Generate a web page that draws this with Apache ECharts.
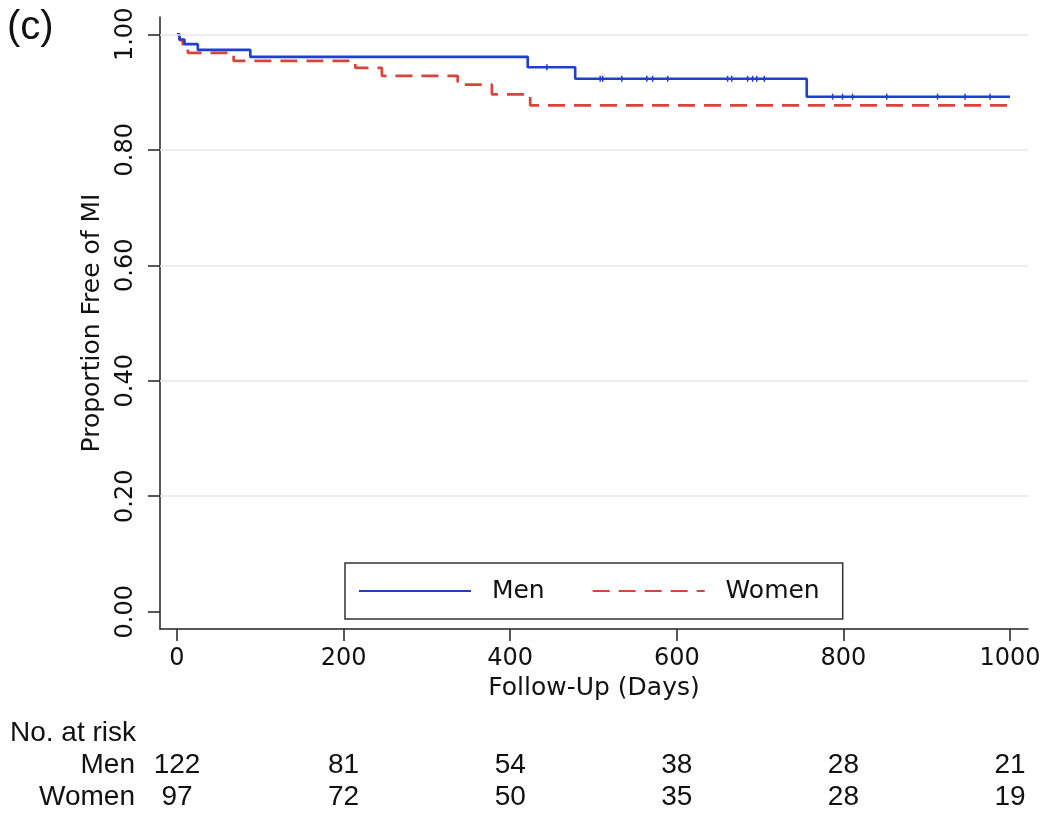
<!DOCTYPE html>
<html>
<head>
<meta charset="utf-8">
<script src="https://cdn.jsdelivr.net/npm/echarts@6/dist/echarts.min.js"></script>
<style>html,body{margin:0;padding:0;background:#fff;}#c{width:1050px;height:816px;}</style>
</head>
<body>
<div id="c"></div>
<script>
// ---- data ----
const yTicks = [0, 0.2, 0.4, 0.6, 0.8, 1.0];
const xTicks = [0, 200, 400, 600, 800, 1000];
const gridValues = [0.2, 0.4, 0.6, 0.8, 1.0];
const menTime = [0, 3, 9, 25, 88, 421, 478, 756, 1000];
const menSurv = [1.0, 0.991, 0.983, 0.973, 0.961, 0.943, 0.923, 0.892, 0.892];
const womenTime = [0, 3, 7, 13, 68, 214, 246, 337, 378, 424, 1000];
const womenSurv = [1.0, 0.99, 0.979, 0.968, 0.954, 0.942, 0.928, 0.913, 0.896, 0.877, 0.877];
const menCensored = [444, 508, 511, 534, 564, 571, 589, 661, 666, 685, 691, 696, 705, 787, 799, 811, 852, 913, 946, 976];
const riskTimes = [0, 200, 400, 600, 800, 1000];
const riskGroups = ['Men', 'Women'];
const atRiskMen = [122, 81, 54, 38, 28, 21];
const atRiskWomen = [97, 72, 50, 35, 28, 19];

// ---- build ----
const BLUE = '#1f3fd0', RED = '#d9443a';
const AX = 'DejaVu Sans', TB = 'Liberation Sans';
function pairs(t, s) { return t.map((v, i) => [v, s[i]]); }
function survAt(t, times, surv) { let v = surv[0]; for (let i = 0; i < times.length; i++) { if (times[i] <= t) v = surv[i]; } return v; }
const riskData = [];
riskTimes.forEach((t, i) => { riskData.push([t, 'Men', atRiskMen[i]]); riskData.push([t, 'Women', atRiskWomen[i]]); });

const chart = echarts.init(document.getElementById('c'), null, { renderer: 'canvas' });
chart.setOption({
  animation: false,
  backgroundColor: '#fff',
  title: [
    { text: '(c)', left: 7, top: 8, padding: 0, textStyle: { fontFamily: TB, fontSize: 40, fontWeight: 'normal', color: '#111' } },
    { text: 'No. at risk', left: 10, top: 719, padding: 0, textStyle: { fontFamily: TB, fontSize: 28, fontWeight: 'normal', color: '#111' } }
  ],
  grid: [
    { left: 160, right: 22, top: 17, bottom: 187 },
    { left: 160, right: 22, top: 749, height: 64 }
  ],
  xAxis: [
    {
      type: 'value', gridIndex: 0, min: -20.4, max: 1021.6,
      name: 'Follow-Up (Days)', nameLocation: 'middle', nameGap: 46,
      nameTextStyle: { fontFamily: AX, fontSize: 25, color: '#111' },
      axisLine: { show: true, onZero: false, lineStyle: { color: '#222', width: 1.5 } },
      axisTick: { show: true, length: 12, customValues: xTicks, lineStyle: { color: '#222', width: 1.5 } },
      axisLabel: { customValues: xTicks, margin: 18, fontFamily: AX, fontSize: 24, color: '#111', formatter: v => String(v) },
      splitLine: { show: false }
    },
    { type: 'value', gridIndex: 1, min: -20.4, max: 1021.6, show: false }
  ],
  yAxis: [
    {
      type: 'value', gridIndex: 0, min: -0.030, max: 1.030,
      name: 'Proportion Free of MI', nameLocation: 'middle', nameGap: 55, nameRotate: 90,
      nameTextStyle: { fontFamily: AX, fontSize: 25, color: '#111' },
      axisLine: { show: true, onZero: false, lineStyle: { color: '#222', width: 1.5 } },
      axisTick: { show: true, length: 12, customValues: yTicks, lineStyle: { color: '#222', width: 1.5 } },
      axisLabel: { customValues: yTicks, rotate: 90, margin: 22, fontFamily: AX, fontSize: 24, color: '#111',
        formatter: v => v.toFixed(2) },
      splitLine: { show: false }
    },
    {
      type: 'category', gridIndex: 1, data: riskGroups, inverse: true,
      axisLine: { show: false }, axisTick: { show: false },
      axisLabel: { interval: 0, margin: 25, fontFamily: TB, fontSize: 28, color: '#111' }
    }
  ],
  legend: {
    data: ['Men', 'Women'],
    left: 345, top: 563,
    orient: 'horizontal',
    padding: [15, 23, 15, 13],
    itemWidth: 112, itemHeight: 14, itemGap: 47,
    borderColor: '#333', borderWidth: 1.5,
    formatter: name => '  ' + name,
    itemStyle: { opacity: 0 },
    textStyle: { fontFamily: AX, fontSize: 25, color: '#111', lineHeight: 26 }
  },
  series: [
    {
      name: 'grid', type: 'line', xAxisIndex: 0, yAxisIndex: 0, data: [], silent: true,
      markLine: { silent: true, symbol: 'none', label: { show: false },
        lineStyle: { color: '#e6e6e6', width: 1.5, type: 'solid' },
        data: gridValues.map(v => ({ yAxis: v })) }
    },
    {
      name: 'Men', type: 'line', step: 'end', xAxisIndex: 0, yAxisIndex: 0,
      data: pairs(menTime, menSurv), symbol: 'none', color: BLUE,
      lineStyle: { color: BLUE, width: 2.6 }, z: 3
    },
    {
      name: 'Women', type: 'line', step: 'end', xAxisIndex: 0, yAxisIndex: 0,
      data: pairs(womenTime, womenSurv), symbol: 'none', color: RED,
      lineStyle: { color: RED, width: 2.7, type: [17, 9] }, z: 2
    },
    {
      name: 'Men censored', type: 'scatter', xAxisIndex: 0, yAxisIndex: 0,
      data: menCensored.map(t => [t, survAt(t, menTime, menSurv)]),
      symbol: 'rect', symbolSize: [1.5, 6], itemStyle: { color: BLUE, opacity: 1 }, z: 3, silent: true
    },
    {
      name: 'atrisk', type: 'scatter', xAxisIndex: 1, yAxisIndex: 1,
      data: riskData, symbolSize: 0, silent: true, itemStyle: { opacity: 1 },
      label: { show: true, position: 'inside', formatter: p => String(p.value[2]),
        fontFamily: TB, fontSize: 28, color: '#111', opacity: 1 }
    }
  ]
});
</script>
</body>
</html>
